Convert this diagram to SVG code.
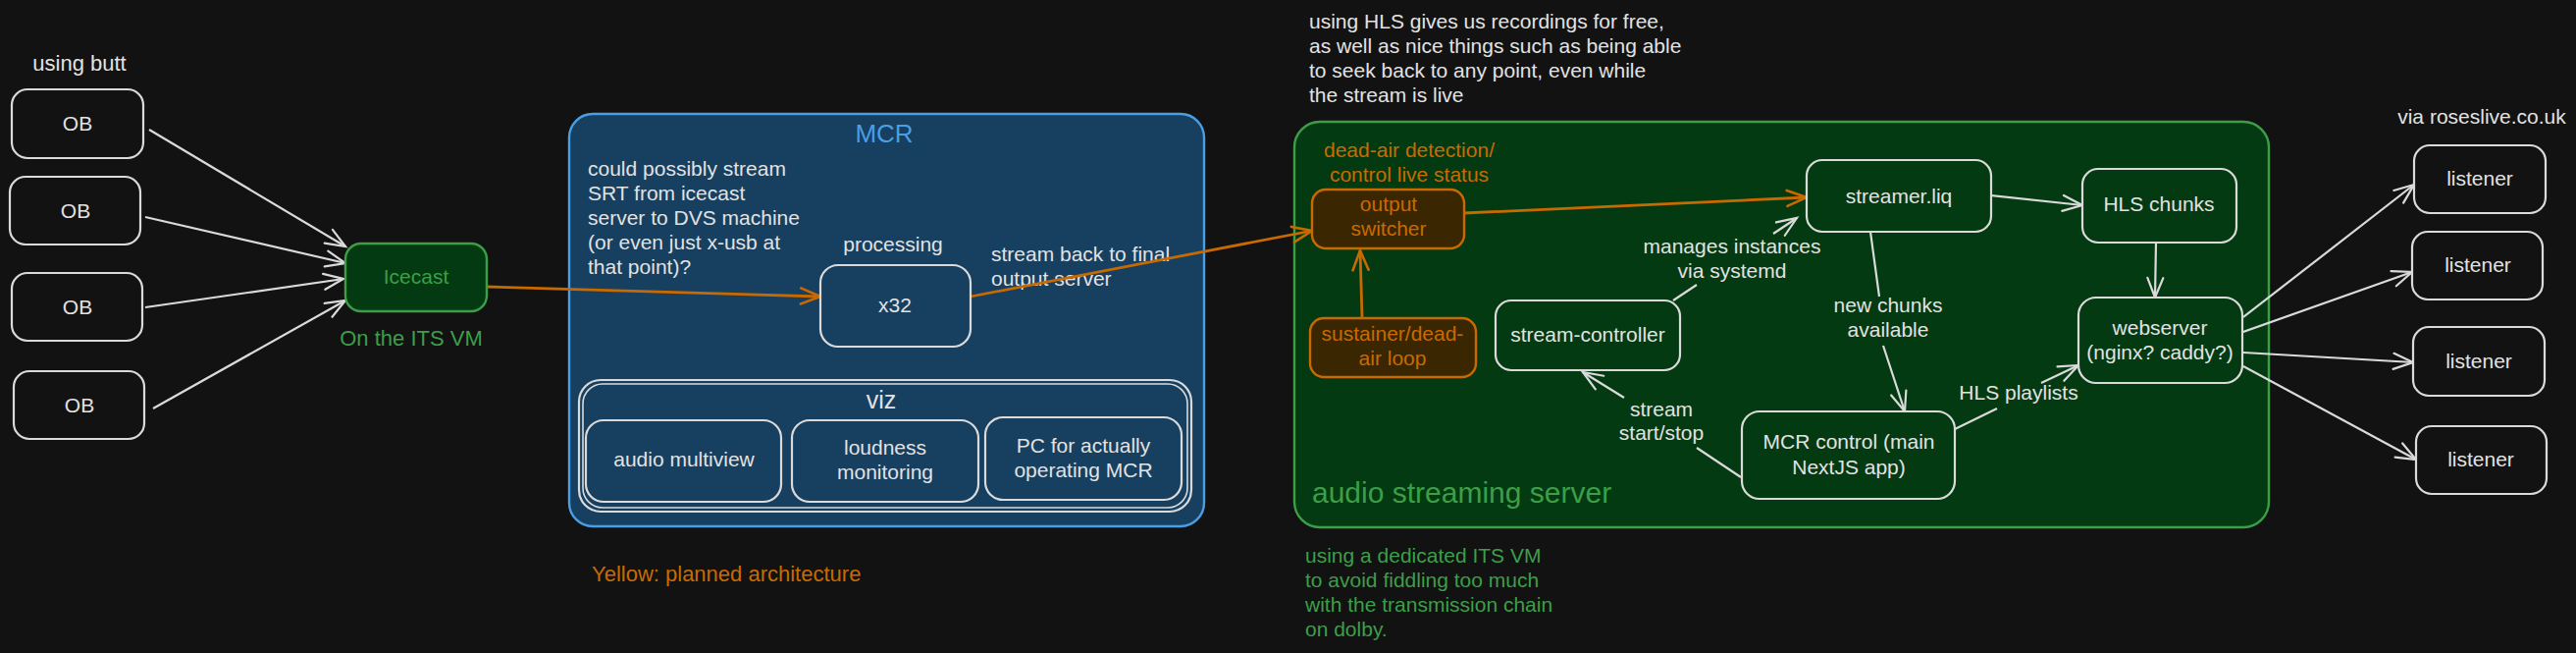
<svg xmlns="http://www.w3.org/2000/svg" width="2625" height="665" viewBox="0 0 2625 665">
<defs>
<style>
text{font-family:"Liberation Sans","DejaVu Sans",sans-serif;font-size:21px;fill:#e2e2e2}
.m{text-anchor:middle}
.w{fill:none;stroke:#dadada;stroke-width:2.2}
.box{fill:#121212;stroke:#dadada;stroke-width:2.2}
.gbox{fill:#043a11;stroke:#dadada;stroke-width:2.2}
.bbox{fill:#163f60;stroke:#dadada;stroke-width:2.2}
.obox{fill:#3a2600;stroke:#c96a00;stroke-width:2.4}
.or{fill:#c96a00}
.gr{fill:#3c9f48}
.cw{fill:none;stroke:#dadada;stroke-width:2.2;marker-end:url(#aw)}
.co{fill:none;stroke:#c96a00;stroke-width:2.8;marker-end:url(#ao)}
</style>
<marker id="aw" viewBox="-24 -12 28 24" refX="0" refY="0" markerWidth="28" markerHeight="24" markerUnits="userSpaceOnUse" orient="auto">
<path d="M-20,-8 L0,0 L-20,8" fill="none" stroke="#dadada" stroke-width="2.2" stroke-linecap="round"/>
</marker>
<marker id="ao" viewBox="-24 -12 28 24" refX="0" refY="0" markerWidth="28" markerHeight="24" markerUnits="userSpaceOnUse" orient="auto">
<path d="M-20,-8 L0,0 L-20,8" fill="none" stroke="#c96a00" stroke-width="2.6" stroke-linecap="round"/>
</marker>
</defs>
<rect x="0" y="0" width="2625" height="665" fill="#121212"/>

<!-- containers -->
<g id="mcr">
<rect x="580" y="116" width="647" height="420" rx="24" fill="#163f60" stroke="#4a9ee5" stroke-width="2.4"/>
<text x="901" y="145" class="m" style="font-size:26px;fill:#4a9ee5">MCR</text>
<text x="599" y="179">could possibly stream</text>
<text x="599" y="204">SRT from icecast</text>
<text x="599" y="229">server to DVS machine</text>
<text x="599" y="254">(or even just x-usb at</text>
<text x="599" y="279">that point)?</text>
<text x="1010" y="266">stream back to final</text>
<text x="1010" y="291">output server</text>
</g>
<g id="viz">
<rect x="590" y="387" width="624" height="134" rx="22" class="w"/>
<rect x="594" y="391" width="616" height="126" rx="20" fill="none" stroke="#dadada" stroke-width="1.6"/>
<text x="898" y="416" class="m" style="font-size:25px">viz</text>
</g>
<g id="streaming-server">
<rect x="1319" y="124" width="993" height="413" rx="26" fill="#043a11" stroke="#3c9f48" stroke-width="2.4"/>
<text x="1337" y="512" class="gr" style="font-size:30px">audio streaming server</text>
</g>

<!-- connectors -->
<g id="connectors">
<path class="cw" d="M152,132 L352,251"/>
<path class="cw" d="M148,221 L352,268"/>
<path class="cw" d="M148,313 L350,284"/>
<path class="cw" d="M156,416 L352,306"/>
<path class="co" d="M496,292 L836,302"/>
<path class="co" d="M989,302 L1337,235"/>
<path class="co" d="M1492,217 L1841,201"/>
<path class="co" d="M1388,324 L1386,255"/>
<path class="cw" d="M2029,199 L2122,209"/>
<path class="cw" d="M2197,247 L2196,303"/>
<path class="cw" d="M1906,236 L1915,302 M1919,352 L1941,419"/>
<path class="cw" d="M1992,437 L2035,416 M2080,390 L2118,372"/>
<path class="cw" d="M1705,306 L1729,290 M1807,238 L1831,222"/>
<path class="cw" d="M1774,486 L1729,456 M1655,405 L1613,379"/>
<path class="cw" d="M2286,323 L2460,188"/>
<path class="cw" d="M2286,338 L2458,277"/>
<path class="cw" d="M2286,359 L2459,369"/>
<path class="cw" d="M2286,373 L2462,468"/>
<text x="1924" y="318" class="m">new chunks</text>
<text x="1924" y="343" class="m">available</text>
<text x="2057" y="407" class="m">HLS playlists</text>
<text x="1765" y="258" class="m">manages instances</text>
<text x="1765" y="283" class="m">via systemd</text>
<text x="1693" y="424" class="m">stream</text>
<text x="1693" y="448" class="m">start/stop</text>
</g>

<!-- nodes -->
<g id="ob1"><rect x="12" y="91" width="134" height="70" rx="16" class="box"/><text x="79" y="133" class="m">OB</text></g>
<g id="ob2"><rect x="10" y="180" width="133" height="69" rx="16" class="box"/><text x="77" y="222" class="m">OB</text></g>
<g id="ob3"><rect x="12" y="278" width="133" height="69" rx="16" class="box"/><text x="79" y="320" class="m">OB</text></g>
<g id="ob4"><rect x="14" y="378" width="133" height="69" rx="16" class="box"/><text x="81" y="420" class="m">OB</text></g>
<text x="81" y="72" class="m" style="font-size:22px">using butt</text>

<g id="icecast">
<rect x="352" y="248" width="144" height="69" rx="16" fill="#043a11" stroke="#3c9f48" stroke-width="2.4"/>
<text x="424" y="289" class="m gr">Icecast</text>
</g>
<text x="419" y="352" class="m gr" style="font-size:22px">On the ITS VM</text>

<g id="x32">
<rect x="836" y="270" width="153" height="83" rx="18" class="bbox"/>
<text x="912" y="318" class="m">x32</text>
</g>
<text x="910" y="256" class="m">processing</text>

<g id="audio-multiview"><rect x="597" y="428" width="199" height="83" rx="18" class="bbox"/><text x="697" y="475" class="m">audio multiview</text></g>
<g id="loudness"><rect x="807" y="428" width="190" height="83" rx="18" class="bbox"/><text x="902" y="463" class="m">loudness</text><text x="902" y="488" class="m">monitoring</text></g>
<g id="pc"><rect x="1004" y="425" width="200" height="84" rx="18" class="bbox"/><text x="1104" y="461" class="m">PC for actually</text><text x="1104" y="486" class="m">operating MCR</text></g>

<text x="603" y="592" class="or" style="font-size:22px">Yellow: planned architecture</text>

<text x="1334" y="29">using HLS gives us recordings for free,</text>
<text x="1334" y="54">as well as nice things such as being able</text>
<text x="1334" y="79">to seek back to any point, even while</text>
<text x="1334" y="104">the stream is live</text>

<text x="1436" y="160" class="m or">dead-air detection/</text>
<text x="1436" y="185" class="m or">control live status</text>
<g id="output-switcher">
<rect x="1337" y="193" width="155" height="60" rx="14" class="obox"/>
<text x="1415" y="215" class="m or">output</text>
<text x="1415" y="240" class="m or">switcher</text>
</g>
<g id="sustainer">
<rect x="1335" y="324" width="169" height="60" rx="14" class="obox"/>
<text x="1419" y="347" class="m or">sustainer/dead-</text>
<text x="1419" y="372" class="m or">air loop</text>
</g>
<g id="stream-controller">
<rect x="1524" y="306" width="188" height="71" rx="16" class="gbox"/>
<text x="1618" y="348" class="m">stream-controller</text>
</g>
<g id="streamer-liq">
<rect x="1841" y="163" width="188" height="73" rx="16" class="gbox"/>
<text x="1935" y="207" class="m">streamer.liq</text>
</g>
<g id="hls-chunks">
<rect x="2122" y="172" width="157" height="75" rx="16" class="gbox"/>
<text x="2200" y="215" class="m">HLS chunks</text>
</g>
<g id="webserver">
<rect x="2118" y="303" width="167" height="87" rx="18" class="gbox"/>
<text x="2201" y="341" class="m">webserver</text>
<text x="2201" y="366" class="m">(nginx? caddy?)</text>
</g>
<g id="mcr-control">
<rect x="1775" y="419" width="217" height="89" rx="18" class="gbox"/>
<text x="1884" y="457" class="m">MCR control (main</text>
<text x="1884" y="483" class="m">NextJS app)</text>
</g>

<g style="font-size:22px">
<text x="1330" y="573" class="gr">using a dedicated ITS VM</text>
<text x="1330" y="598" class="gr">to avoid fiddling too much</text>
<text x="1330" y="623" class="gr">with the transmission chain</text>
<text x="1330" y="648" class="gr">on dolby.</text>
</g>

<text x="2529" y="126" class="m">via roseslive.co.uk</text>
<g id="listener1"><rect x="2460" y="148" width="134" height="69" rx="16" class="box"/><text x="2527" y="189" class="m">listener</text></g>
<g id="listener2"><rect x="2458" y="236" width="133" height="69" rx="16" class="box"/><text x="2525" y="277" class="m">listener</text></g>
<g id="listener3"><rect x="2459" y="333" width="134" height="70" rx="16" class="box"/><text x="2526" y="375" class="m">listener</text></g>
<g id="listener4"><rect x="2462" y="434" width="133" height="69" rx="16" class="box"/><text x="2528" y="475" class="m">listener</text></g>
</svg>
